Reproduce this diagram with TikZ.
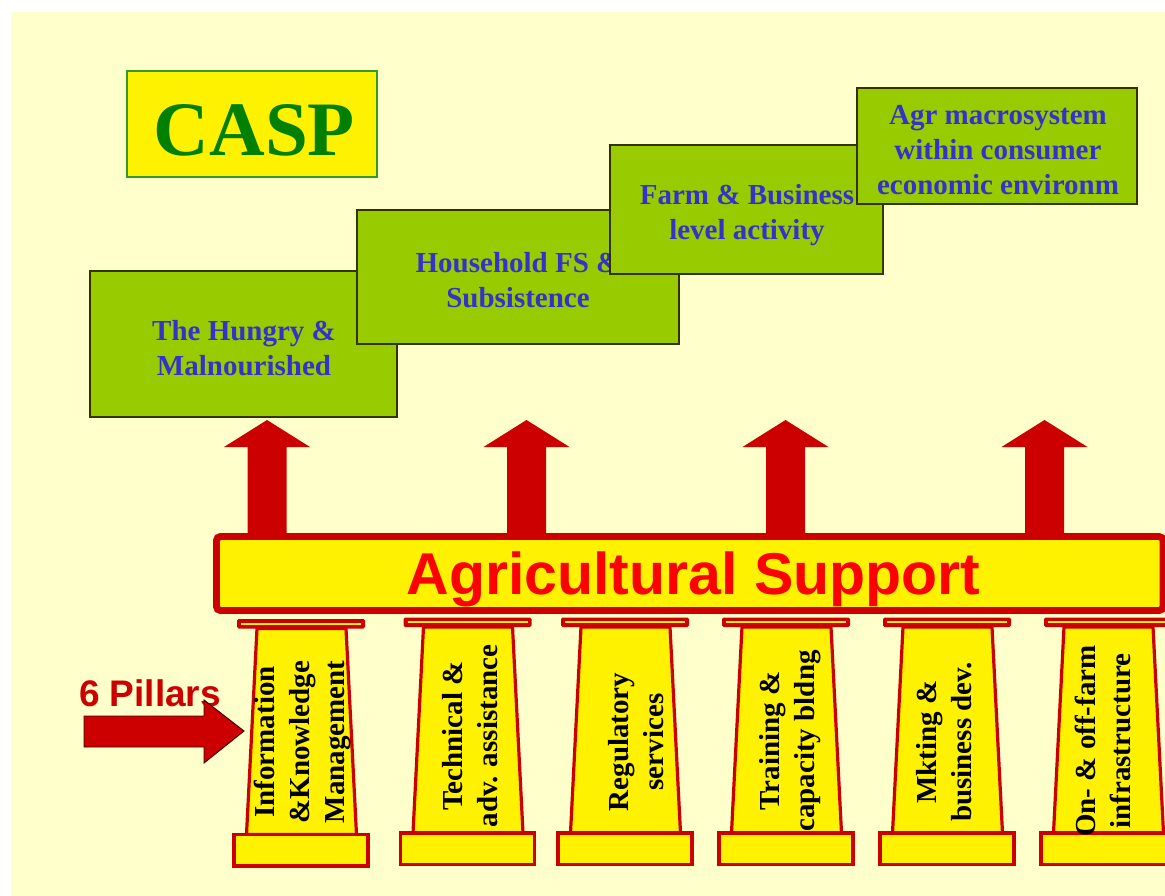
\documentclass[tikz,border=0pt]{standalone}
\usepackage{fontspec}
\setmainfont{Liberation Serif}
\newfontfamily\arialfont{Liberation Sans}
\definecolor{bgyel}{HTML}{FFFFCC}
\definecolor{boxgreen}{HTML}{99CC00}
\definecolor{boxborder}{HTML}{333300}
\definecolor{boxblue}{HTML}{3333CC}
\definecolor{caspgreen}{HTML}{008000}
\definecolor{caspborder}{HTML}{339933}
\definecolor{darkred}{HTML}{CC0000}
\definecolor{brightred}{HTML}{FF0000}
\begin{document}
\begin{tikzpicture}[x=0.75pt,y=-0.75pt,
  gbox/.style={draw=boxborder, fill=boxgreen, line width=1.1pt, inner sep=0pt},
  gtext/.style={text=boxblue, font=\bfseries\fontsize{21.75}{26.25}\selectfont,
    align=center, inner sep=0pt},
  pillartext/.style={rotate=90, align=center, inner sep=0pt, text=black,
    font=\bfseries\fontsize{21.75}{26.25}\selectfont},
  pillarline/.style={draw=darkred, fill=yellow, line width=2.4pt},
  blockarrow/.style={fill=darkred}]
\useasboundingbox (0,0) rectangle (1165,896);
\fill[white] (0,0) rectangle (1165,896);
\fill[bgyel] (11,12) rectangle (1165,896);

% CASP title
\node[draw=caspborder, fill=yellow, line width=0.9pt, minimum width=250*0.75pt,
  minimum height=106*0.75pt, inner sep=0pt] (caspbox) at (252,124) {};
\node[anchor=base, text=caspgreen, font=\bfseries\fontsize{57.75}{60}\selectfont,
  inner sep=0pt] (casp) at (254.5,155) {CASP};

% level boxes
\node[gbox, minimum width=307*0.75pt, minimum height=146*0.75pt] (hungry) at (243.5,344) {};
\node[gtext] (hungrytext) at (244,348) {The Hungry \&\\Malnourished};
\node[gbox, minimum width=322*0.75pt, minimum height=134*0.75pt] (household) at (518,277) {};
\node[gtext] (householdtext) at (518,280.5) {Household FS \&\\Subsistence};
\node[gbox, minimum width=273*0.75pt, minimum height=129*0.75pt] (farm) at (746.5,209.5) {};
\node[gtext] (farmtext) at (747,215) {Farm \& Business\\level activity};
\node[gbox, minimum width=280*0.75pt, minimum height=116*0.75pt] (macro) at (997,146) {};
\node[gtext] (macrotext) at (998,150) {Agr macrosystem\\within consumer\\economic environm};

% upward block arrows
\foreach \cx in {267,526.5,785.5,1044.5}{
  \fill[blockarrow] (\cx-19.5,536) -- (\cx-19.5,447) -- (\cx-43,447) -- (\cx,420)
    -- (\cx+43,447) -- (\cx+19.5,447) -- (\cx+19.5,536) -- cycle;
}

% Agricultural Support bar
\node[draw=darkred, fill=yellow, line width=5.2pt, rounded corners=3pt,
  minimum width=946.5*0.75pt, minimum height=74*0.75pt, inner sep=0pt] (bar) at (689.75,573.5) {};
\node[anchor=base, text=brightred, font=\arialfont\bfseries\fontsize{44.25}{46}\selectfont,
  inner sep=0pt] (bartext) at (693.5,594) {Agricultural Support};

% pillars
\foreach \cx/\dy in {301/1.5,467.5/0,625/0,786/0,947/0,1108/0}{
  \fill[darkred, rounded corners=1.2pt] (\cx-64,617.5+\dy) rectangle (\cx+64,627+\dy);
  \draw[yellow, line width=1.6pt] (\cx-60,622.2+\dy) -- (\cx+60,622.2+\dy);
  \draw[pillarline] (\cx-44,627+\dy) -- (\cx+45,627+\dy) -- (\cx+55.5,833+\dy)
    -- (\cx-54.5,833+\dy) -- cycle;
  \draw[pillarline] (\cx-67,833+\dy) rectangle (\cx+67,864.5+\dy);
}

\node[pillartext] (p1) at (302,742) {Information\\\&Knowledge\\Management};
\node[pillartext] (p2) at (470,736) {Technical \&\\adv. assistance};
\node[pillartext] (p3) at (636,742) {Regulatory\\services};
\node[pillartext] (p4) at (790,741) {Training \&\\capacity bldng};
\node[pillartext] (p5) at (944.5,742) {Mkting \&\\business dev.};
\node[pillartext] (p6) at (1102.5,741) {On- \& off-farm\\infrastructure};

% 6 Pillars pointer
\node[anchor=base, text=darkred, font=\arialfont\bfseries\fontsize{27.75}{30}\selectfont,
  inner sep=0pt] (sixp) at (150,706) {6 Pillars};
\coordinate (ptip) at (244,731);
\filldraw[fill=darkred, draw=black!70!darkred, line width=0.7pt]
  (84,716) -- (204,716) -- (204,700) -- (ptip) -- (204,763) -- (204,747) -- (84,747) -- cycle;
\end{tikzpicture}
\end{document}
